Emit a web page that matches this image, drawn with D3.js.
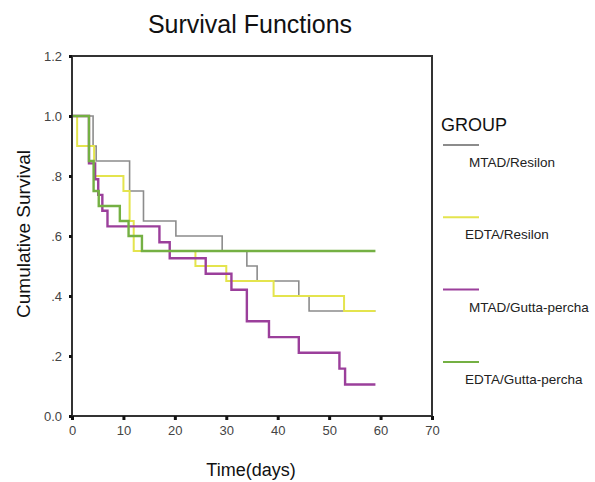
<!DOCTYPE html>
<html>
<head>
<meta charset="utf-8">
<script src="https://cdn.jsdelivr.net/npm/d3@7"></script>
<style>
  body { margin: 0; background: white; }
  svg text { font-family: Arial, "Liberation Sans", sans-serif; }
</style>
</head>
<body>
<script>
// groups, in legend order
const groups = ["MTAD/Resilon", "EDTA/Resilon", "MTAD/Gutta-percha", "EDTA/Gutta-percha"];
const colors = ["#8c8c8c", "#e4e44e", "#9b3f9b", "#74b043"];

// step data (time in days, cumulative survival)
const mtadResilonT = [0, 4.1, 4.7, 11.2, 13.9, 20.2, 29.2, 34, 36, 44.1, 46.1, 59];
const mtadResilonS = [1, 0.9, 0.85, 0.75, 0.65, 0.6, 0.55, 0.5, 0.45, 0.4, 0.35, 0.35];

const edtaResilonT = [0, 1, 4.3, 10, 11.2, 12, 24, 30, 39.2, 52.9, 59];
const edtaResilonS = [1, 0.9, 0.8, 0.75, 0.65, 0.55, 0.5, 0.45, 0.4, 0.35, 0.35];

const mtadGuttaT = [0, 3.3, 4.5, 5.1, 5.9, 6.9, 17, 19, 26, 31, 34, 38.3, 44.1, 52, 53.1, 59];
const mtadGuttaS = [1, 0.842, 0.789, 0.737, 0.684, 0.632, 0.579, 0.526, 0.474, 0.421, 0.316, 0.263, 0.211, 0.158, 0.105, 0.105];

const edtaGuttaT = [0, 3.3, 4.2, 5.2, 9.3, 11, 13.6, 59];
const edtaGuttaS = [1, 0.85, 0.75, 0.7, 0.65, 0.6, 0.55, 0.55];

const xTicks = [0, 10, 20, 30, 40, 50, 60, 70];
const yTicks = [0, 0.2, 0.4, 0.6, 0.8, 1.0, 1.2];
const yTickLabels = ["0.0", ".2", ".4", ".6", ".8", "1.0", "1.2"];

const series = [
    { name: groups[0], t: mtadResilonT, s: mtadResilonS, color: colors[0], w: 1.6 },
    { name: groups[1], t: edtaResilonT, s: edtaResilonS, color: colors[1], w: 2 },
    { name: groups[2], t: mtadGuttaT, s: mtadGuttaS, color: colors[2], w: 2.4 },
    { name: groups[3], t: edtaGuttaT, s: edtaGuttaS, color: colors[3], w: 2.4 }
];

const width = 595, height = 482;
const plot = { left: 72, right: 432, top: 56, bottom: 416 };

const svg = d3.select("body").append("svg")
    .attr("width", width)
    .attr("height", height)
    .style("background", "white");

const x = d3.scaleLinear().domain([0, 70]).range([plot.left, plot.right]);
const y = d3.scaleLinear().domain([0, 1.2]).range([plot.bottom, plot.top]);

// title
svg.append("text")
    .attr("x", 250).attr("y", 33)
    .attr("text-anchor", "middle")
    .style("font-size", "25px")
    .attr("fill", "#111")
    .text("Survival Functions");

// curves
const line = d3.line()
    .x(d => x(d[0]))
    .y(d => y(d[1]))
    .curve(d3.curveStepAfter);

series.forEach(sr => {
    const pts = sr.t.map((t, i) => [t, sr.s[i]]);
    svg.append("path")
        .attr("d", line(pts))
        .attr("fill", "none")
        .attr("stroke", sr.color)
        .attr("stroke-width", sr.w);
});

// frame
svg.append("path")
    .attr("d", `M${plot.left},${plot.bottom}V${plot.top}H${plot.right}V${plot.bottom}Z`)
    .attr("fill", "none")
    .attr("stroke", "#333")
    .attr("stroke-width", 2);

// axes
const xAxis = svg.append("g")
    .attr("transform", `translate(0,${plot.bottom})`)
    .call(d3.axisBottom(x).tickValues(xTicks).tickSize(4).tickPadding(6).tickFormat(d3.format("d")));
const yAxis = svg.append("g")
    .attr("transform", `translate(${plot.left},0)`)
    .call(d3.axisLeft(y).tickValues(yTicks).tickSize(3).tickPadding(7)
        .tickFormat((d, i) => yTickLabels[i]));

[xAxis, yAxis].forEach(a => {
    a.select(".domain").remove();
    a.selectAll(".tick line").attr("stroke", "#111").attr("stroke-width", 3);
    a.selectAll(".tick text")
        .attr("fill", "#444")
        .style("font-size", "13px")
        .style("font-family", "Arial, 'Liberation Sans', sans-serif");
});

// axis titles
svg.append("text")
    .attr("x", 251).attr("y", 476)
    .attr("text-anchor", "middle")
    .style("font-size", "18px")
    .attr("fill", "#111")
    .text("Time(days)");

svg.append("text")
    .attr("transform", "translate(30,234) rotate(-90)")
    .attr("text-anchor", "middle")
    .style("font-size", "19px")
    .attr("fill", "#111")
    .text("Cumulative Survival");

// legend
svg.append("text")
    .attr("x", 441).attr("y", 131)
    .style("font-size", "18px")
    .attr("fill", "#111")
    .text("GROUP");

const legend = svg.append("g").selectAll("g")
    .data(series)
    .join("g")
    .attr("transform", (d, i) => `translate(443,${145 + i * 72.3})`);

legend.append("line")
    .attr("x1", 0).attr("x2", 36)
    .attr("y1", 0).attr("y2", 0)
    .attr("stroke", d => d.color)
    .attr("stroke-width", 2);

legend.append("text")
    .attr("x", (d, i) => i % 2 === 0 ? 26 : 22)
    .attr("y", 22)
    .style("font-size", "13.5px")
    .attr("fill", "#222")
    .text(d => d.name);
</script>
</body>
</html>
